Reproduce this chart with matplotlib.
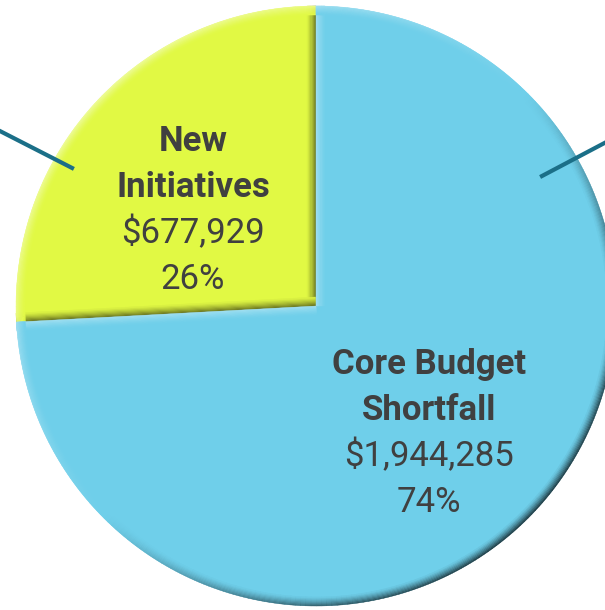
import numpy as np
import matplotlib
matplotlib.use("Agg")
import matplotlib.pyplot as plt
from matplotlib.collections import PolyCollection
from matplotlib import colors as mcolors

# --- data -------------------------------------------------------------
categories = ["New\nInitiatives", "Core Budget\nShortfall"]
amounts = [677929, 1944285]
slice_colors = ["#e1f944", "#6fcfea"]

TEXT_COLOR = "#404040"
LEADER_COLOR = "#1b6f88"
FONT = "Roboto"

# --- figure / axes ----------------------------------------------------
W, H = 605, 610
fig = plt.figure(figsize=(W / 100, H / 100), dpi=100)
ax = fig.add_axes([0, 0, 1, 1])

wedges, _ = ax.pie(amounts, colors=slice_colors, startangle=90,
                   counterclock=True, radius=1.0,
                   wedgeprops=dict(linewidth=0, edgecolor="none"))

# pie centre and radius expressed in pixels of the canvas
cx, cy, rp = 316.0, 306.0, 300.0
ax.set_xlim(-cx / rp, (W - cx) / rp)
ax.set_ylim(-(H - cy) / rp, cy / rp)
ax.set_aspect("auto")
ax.axis("off")

# --- bevel shading ----------------------------------------------------
LIGHT = np.deg2rad(135.0)
BEVEL_W = 9.0 / rp
NB = 8


def shade(base, normal, k):
    s = np.cos(normal - LIGHT)
    rgb = np.array(mcolors.to_rgb(base))
    if s >= 0:
        out = rgb + (1 - rgb) * 0.45 * s * k
    else:
        out = rgb * (1 - 0.72 * (-s) * k)
    return np.clip(out, 0, 1)


polys, cols = [], []
for wdg, base in zip(wedges, slice_colors):
    t1, t2 = np.deg2rad(wdg.theta1), np.deg2rad(wdg.theta2)
    # straight edges
    for ang, nrm in ((t1, t1 - np.pi / 2), (t2, t2 + np.pi / 2)):
        u = np.array([np.cos(ang), np.sin(ang)])
        n = np.array([np.cos(nrm), np.sin(nrm)])
        for j in range(NB):
            d0 = j * BEVEL_W / NB
            d1 = (j + 1) * BEVEL_W / NB
            k = (1 - j / NB) ** 1.3
            quad = [-d0 * n, u - d0 * n, u - d1 * n, -d1 * n]
            polys.append(quad)
            cols.append(shade(base, nrm, k))
    # curved rim
    angs = np.linspace(t1, t2, int(abs(np.rad2deg(t2 - t1))) + 2)
    for a0, a1 in zip(angs[:-1], angs[1:]):
        am = 0.5 * (a0 + a1)
        for j in range(NB):
            ro = 1 - j * BEVEL_W / NB
            ri = 1 - (j + 1) * BEVEL_W / NB
            k = (1 - j / NB) ** 1.3
            quad = [(ri * np.cos(a0), ri * np.sin(a0)),
                    (ro * np.cos(a0), ro * np.sin(a0)),
                    (ro * np.cos(a1), ro * np.sin(a1)),
                    (ri * np.cos(a1), ri * np.sin(a1))]
            polys.append(quad)
            cols.append(shade(base, am, k))

ax.add_collection(PolyCollection(polys, facecolors=cols, edgecolors=cols,
                                 linewidths=0.3, zorder=3))

# --- leader lines (their labels sit outside the visible canvas) -------
leaders = [((-1.10, 0.607), (-0.807, 0.457)),
           ((1.05, 0.590), (0.747, 0.430))]
for p0, p1 in leaders:
    ax.plot([p0[0], p1[0]], [p0[1], p1[1]], color=LEADER_COLOR, lw=3.0,
            solid_capstyle="butt", zorder=4)

# --- data labels ------------------------------------------------------
total = sum(amounts)
label_anchor = [(-0.410, 0.517), (0.377, -0.227)]
STEP = 46.0 / rp
for name, val, (lx, ly) in zip(categories, amounts, label_anchor):
    lines = [(s, "bold") for s in name.split("\n")]
    lines += [(f"${val:,.0f}", "normal"), (f"{val / total:.0%}", "normal")]
    for i, (txt, wt) in enumerate(lines):
        ax.text(lx, ly - i * STEP, txt, ha="center", va="baseline",
                fontsize=25, fontweight=wt, family=FONT, color=TEXT_COLOR,
                zorder=5)

fig.savefig("out.png", dpi=100)
